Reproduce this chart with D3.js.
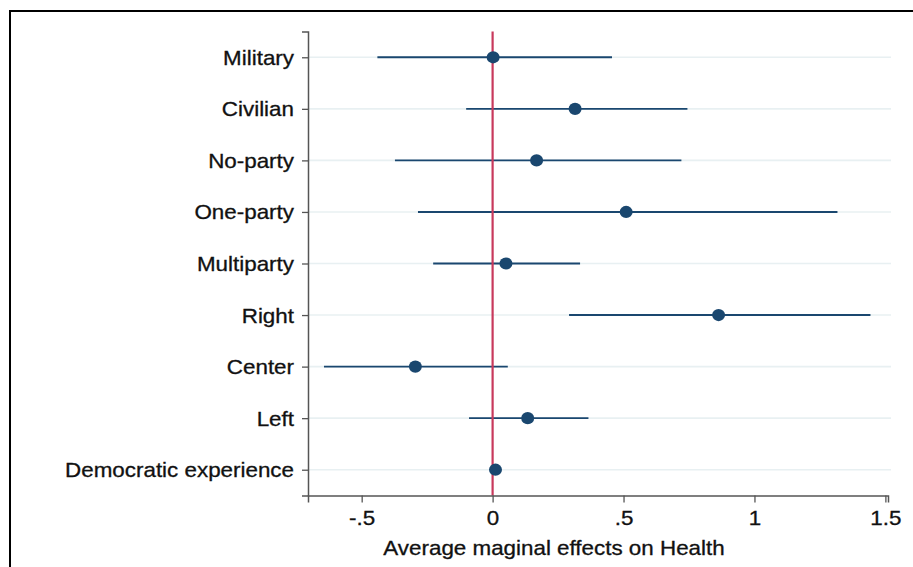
<!DOCTYPE html>
<html>
<head>
<meta charset="utf-8">
<script src="https://cdn.jsdelivr.net/npm/d3@7"></script>
<style>
  html, body { margin: 0; padding: 0; background: #fff; }
  svg { display: block; }
  text { font-family: "Liberation Sans", Arial, Helvetica, sans-serif; fill: #111; stroke: #111; stroke-width: 0.3px; }
</style>
</head>
<body>
<svg id="chart" width="913" height="567"></svg>
<script>
// Average marginal effects on health, by regime / ideology category
const categories = ["Military", "Civilian", "No-party", "One-party", "Multiparty",
                    "Right", "Center", "Left", "Democratic experience"];
const estimates  = [0.002, 0.315, 0.168, 0.510, 0.051, 0.863, -0.295, 0.134, 0.011];
const ciLower    = [-0.440, -0.101, -0.373, -0.285, -0.227, 0.292, -0.644, -0.090, null];
const ciUpper    = [0.456, 0.744, 0.721, 1.317, 0.334, 1.443, 0.058, 0.366, null];
const xTickValues = [-0.5, 0, 0.5, 1, 1.5];
const xTickLabels = ["-.5", "0", ".5", "1", "1.5"];
const xTitle = "Average maginal effects on Health";

const rows = categories.map((c, i) => ({
  cat: c, est: estimates[i], lo: ciLower[i], hi: ciUpper[i]
}));

const svg = d3.select("#chart");
const navy = "#1a476f";
const stretch = 1.12;

// outer frame
svg.append("rect")
  .attr("x", 10).attr("y", 11).attr("width", 1000).attr("height", 1000)
  .attr("fill", "none").attr("stroke", "#000").attr("stroke-width", 2);

const x = d3.scaleLinear().domain([-0.705, 1.51]).range([308, 888]);
const y = d3.scalePoint().domain(categories).range([31.5, 495.5]).padding(0.5);

// light horizontal grid lines at each category
svg.append("g").selectAll("line").data(categories).join("line")
  .attr("x1", x.range()[0]).attr("x2", x.range()[1] + 3)
  .attr("y1", d => y(d)).attr("y2", d => y(d))
  .attr("stroke", "#e8f0f2").attr("stroke-width", 1.6);

// confidence intervals
svg.append("g").selectAll("line").data(rows.filter(d => d.lo !== null)).join("line")
  .attr("x1", d => x(d.lo)).attr("x2", d => x(d.hi))
  .attr("y1", d => y(d.cat)).attr("y2", d => y(d.cat))
  .attr("stroke", navy).attr("stroke-width", 1.9);

// reference line at zero
svg.append("line")
  .attr("x1", x(0)).attr("x2", x(0))
  .attr("y1", y.range()[0]).attr("y2", y.range()[1])
  .attr("stroke", "#c8395c").attr("stroke-width", 2.2);

// point estimates
svg.append("g").selectAll("ellipse").data(rows).join("ellipse")
  .attr("cx", d => x(d.est)).attr("cy", d => y(d.cat))
  .attr("rx", 6.5).attr("ry", 6.1)
  .attr("fill", navy);

// y axis
const yAxis = svg.append("g")
  .attr("transform", `translate(${x.range()[0]},0)`)
  .call(d3.axisLeft(y).tickSizeOuter(0).tickSize(6).tickPadding(8));
yAxis.select(".domain").attr("stroke", "#555").attr("stroke-width", 1.5);
yAxis.selectAll(".tick line").attr("stroke", "#555").attr("stroke-width", 1.3);
yAxis.selectAll(".tick text")
  .attr("x", null).attr("dy", "0.35em")
  .attr("transform", `translate(-14,0) scale(${stretch},1)`)
  .style("font-size", "20px").attr("fill", "#111");

// x axis
const xAxis = svg.append("g")
  .attr("transform", `translate(0,${y.range()[1]})`)
  .call(d3.axisBottom(x).tickValues(xTickValues)
    .tickFormat((d, i) => xTickLabels[i]).tickSizeOuter(0).tickSize(7).tickPadding(8));
xAxis.select(".domain").attr("stroke", "#555").attr("stroke-width", 1.5);
xAxis.selectAll(".tick line").attr("stroke", "#555").attr("stroke-width", 1.3);
xAxis.selectAll(".tick text")
  .attr("y", null).attr("dy", "0.71em")
  .attr("transform", `translate(0,15) scale(${stretch},1)`)
  .style("font-size", "20px").attr("fill", "#111");

// axis title
svg.append("text")
  .attr("transform", `translate(554,555) scale(${stretch},1)`)
  .attr("text-anchor", "middle")
  .style("font-size", "20px")
  .text(xTitle);
</script>
</body>
</html>
